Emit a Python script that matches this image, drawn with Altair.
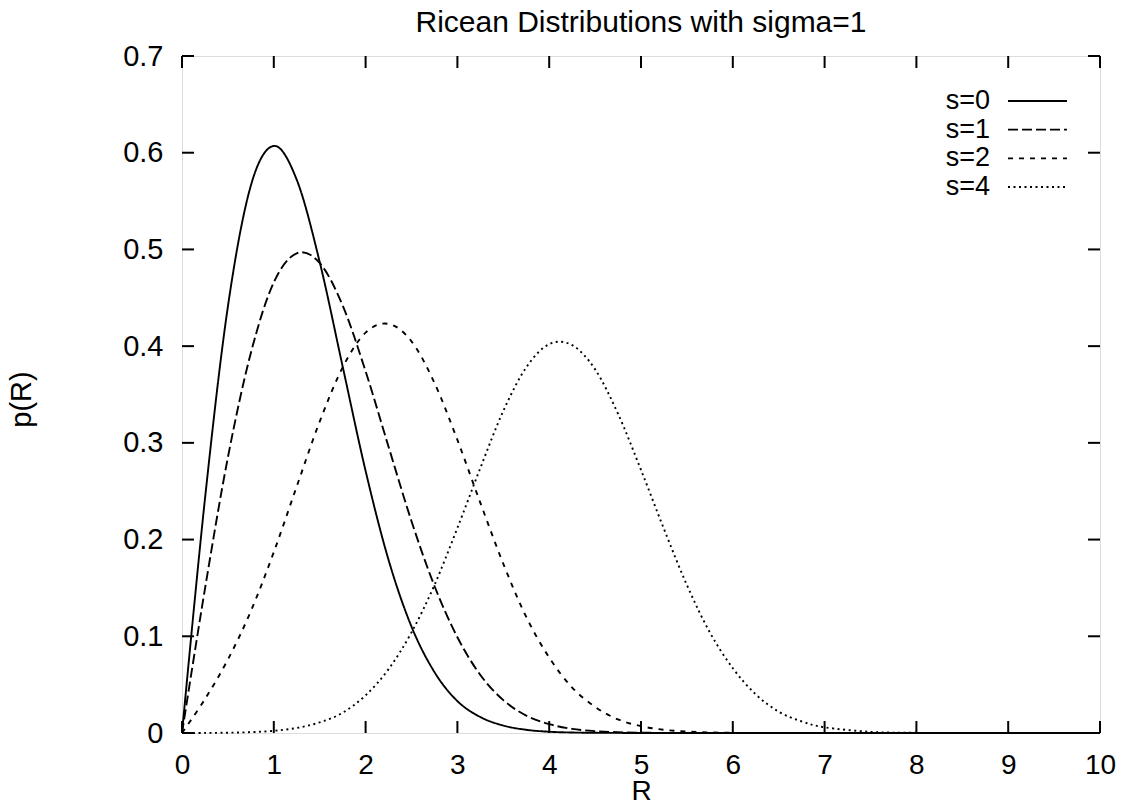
import altair as alt
import pandas as pd

# ---- data ----
R_VALUES = [0, 0.25, 0.5, 0.75, 1.0, 1.25, 1.5, 1.75, 2.0, 2.25, 2.5, 2.75, 3.0,
            3.25, 3.5, 3.75, 4.0, 4.25, 4.5, 4.75, 5.0, 5.25, 5.5, 5.75, 6.0,
            6.25, 6.5, 6.75, 7.0, 7.5, 8.0, 8.5, 9.0, 9.5, 10.0]

S0 = [0, 0.242, 0.441, 0.566, 0.607, 0.572, 0.487, 0.379, 0.271, 0.179, 0.110,
      0.063, 0.033, 0.0165, 0.0077, 0.0033, 0.0013, 0.0005, 0.0002, 0.0001,
      0, 0, 0, 0, 0, 0, 0, 0, 0, 0, 0, 0, 0, 0, 0]
S1 = [0, 0.149, 0.285, 0.393, 0.466, 0.496, 0.486, 0.442, 0.374, 0.296, 0.219,
      0.152, 0.099, 0.060, 0.034, 0.018, 0.0092, 0.0043, 0.0019, 0.0008,
      0.0003, 0.0001, 0.00004, 0, 0, 0, 0, 0, 0, 0, 0, 0, 0, 0, 0]
S2 = [0, 0.035, 0.076, 0.126, 0.187, 0.255, 0.322, 0.378, 0.414, 0.423, 0.405,
      0.362, 0.303, 0.238, 0.175, 0.120, 0.078, 0.047, 0.027, 0.014, 0.0071,
      0.0033, 0.0015, 0.0006, 0.0002, 0.0001, 0.00003, 0, 0, 0, 0, 0, 0, 0, 0]
S4 = [0, 0.0001, 0.0003, 0.0009, 0.0023, 0.0052, 0.011, 0.021, 0.039, 0.066,
      0.104, 0.153, 0.212, 0.274, 0.333, 0.378, 0.402, 0.401, 0.376, 0.330,
      0.272, 0.211, 0.153, 0.104, 0.067, 0.040, 0.022, 0.012, 0.0059, 0.0012,
      0.0002, 0.00003, 0, 0, 0]

SERIES = ["s=0", "s=1", "s=2", "s=4"]
X_TICKS = [0, 1, 2, 3, 4, 5, 6, 7, 8, 9, 10]
Y_TICKS = [0, 0.1, 0.2, 0.3, 0.4, 0.5, 0.6, 0.7]
TITLE = "Ricean Distributions with sigma=1"

FONT = "Liberation Sans"
FS = 29
W, H = 918, 677

rows = []
for name, vals in zip(SERIES, [S0, S1, S2, S4]):
    for r, p in zip(R_VALUES, vals):
        rows.append({"R": r, "p": p, "series": name})
df = pd.DataFrame(rows)

dash_scale = alt.Scale(domain=SERIES, range=[[1, 0], [10, 4], [5, 6], [2, 3.5]])
x_scale = alt.Scale(domain=[0, 10], nice=False)
y_scale = alt.Scale(domain=[0, 0.7], nice=False)

lines = alt.Chart(df).mark_line(color="black", strokeWidth=1.9, interpolate="cardinal",
                                tension=0).encode(
    x=alt.X("R:Q", scale=x_scale,
            axis=alt.Axis(values=X_TICKS, format="~g", title="R", labelFontSize=28,
                          labelFont=FONT, labelColor="black", labelPadding=18, ticks=False,
                          domain=False, grid=False, labelFlush=False, labelOverlap=False,
                          titleFontSize=28, titleFont=FONT, titleFontWeight="normal",
                          titleColor="black", titleY=66, titleBaseline="alphabetic")),
    y=alt.Y("p:Q", scale=y_scale,
            axis=alt.Axis(values=Y_TICKS, format="~g", title="p(R)", labelFontSize=FS,
                          labelFont=FONT, labelColor="black", labelPadding=19, ticks=False,
                          domain=False, grid=False, labelFlush=False, labelOverlap=False,
                          titleFontSize=FS, titleFont=FONT, titleFontWeight="normal",
                          titleColor="black", titleX=-152, titleY=343,
                          titleBaseline="alphabetic", titleAngle=270)),
    strokeDash=alt.StrokeDash("series:N", scale=dash_scale, legend=None),
    detail="series:N",
)

xt = pd.DataFrame({"t": X_TICKS})
yt = pd.DataFrame({"t": Y_TICKS})
TL = 12
tick_bottom = alt.Chart(xt).mark_rule(color="black", strokeWidth=2).encode(
    x=alt.X("t:Q", scale=x_scale), y=alt.value(H), y2=alt.value(H - TL))
tick_top = alt.Chart(xt).mark_rule(color="black", strokeWidth=2).encode(
    x=alt.X("t:Q", scale=x_scale), y=alt.value(0), y2=alt.value(TL))
tick_left = alt.Chart(yt).mark_rule(color="black", strokeWidth=2).encode(
    y=alt.Y("t:Q", scale=y_scale), x=alt.value(0), x2=alt.value(TL))
tick_right = alt.Chart(yt).mark_rule(color="black", strokeWidth=2).encode(
    y=alt.Y("t:Q", scale=y_scale), x=alt.value(W), x2=alt.value(W - TL))

main = alt.layer(lines, tick_bottom, tick_top, tick_left, tick_right)

# title drawn as a text mark above the frame
title_mark = alt.Chart(pd.DataFrame({"t": [TITLE]})).mark_text(
    align="center", baseline="alphabetic", fontSize=30, font=FONT, color="black").encode(
    x=alt.value(W / 2), y=alt.value(-24), text="t:N")

# custom gnuplot-style key: label on the left, line sample on the right
leg_df = pd.DataFrame({"series": SERIES})
leg_y = alt.Y("series:N", scale=alt.Scale(domain=SERIES, range=[45, 131], type="point", padding=0),
              axis=None)
leg_text = alt.Chart(leg_df).mark_text(align="right", baseline="middle", fontSize=27,
                                       font=FONT, color="black").encode(
    y=leg_y, x=alt.value(808), text="series:N")
leg_line = alt.Chart(leg_df).mark_rule(color="black", strokeWidth=1.8).encode(
    y=leg_y, x=alt.value(826), x2=alt.value(885),
    strokeDash=alt.StrokeDash("series:N", scale=dash_scale, legend=None))
legend = alt.layer(leg_text, leg_line)

chart = alt.layer(main, legend, title_mark).resolve_scale(y="independent").properties(
    width=W, height=H,
    padding={"left": 182, "top": 56, "right": 24, "bottom": 74},
    autosize=alt.AutoSizeParams(type="none"),
).configure_view(stroke="black", strokeWidth=2.5).configure(background="white")

chart.save("out.html", embed_options={"renderer": "svg", "actions": False})
